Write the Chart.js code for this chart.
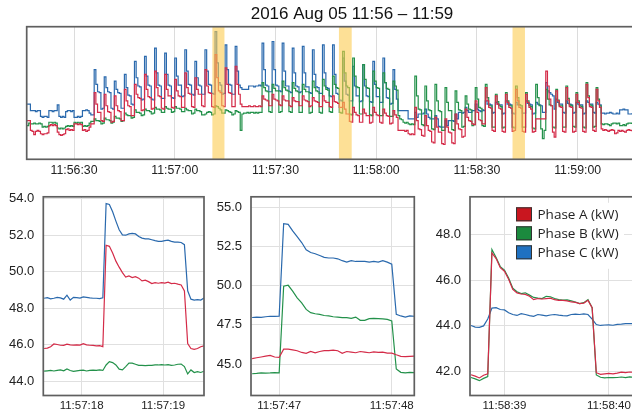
<!DOCTYPE html>
<html>
<head>
<meta charset="utf-8">
<script src="https://cdn.jsdelivr.net/npm/chart.js@4.4.1/dist/chart.umd.min.js"></script>
<style>
  html, body { margin: 0; padding: 0; background: #fff; overflow: hidden; }
  body { width: 632px; height: 417px; position: relative; }
  .box { position: absolute; }
</style>
</head>
<body>
<div class="box" style="left:0;top:0;width:680px;height:182px"><canvas id="overview"></canvas></div>
<div class="box" style="left:0;top:180px;width:215px;height:237px"><canvas id="zoom1"></canvas></div>
<div class="box" style="left:210px;top:180px;width:215px;height:237px"><canvas id="zoom2"></canvas></div>
<div class="box" style="left:420px;top:180px;width:250px;height:237px"><canvas id="zoom3"></canvas></div>
<script>
// time values are seconds after 11:56:00
const title = "2016 Aug 05 11:56 \u2013 11:59";
const seriesNames = ["Phase A (kW)", "Phase B (kW)", "Phase C (kW)"];
const lineColors = ["#d42b48", "#23914a", "#2a69ad"];
const keyColors = ["#c9161f", "#1b8a3e", "#1f71c1"];

// overview: one sample every 0.5 s from 16.0 s
const overviewStart = 16;
const overviewStep = 0.5;
const overviewTicks = [30, 60, 90, 120, 150, 180];
const overviewTickLabels = ["11:56:30", "11:57:00", "11:57:30", "11:58:00", "11:58:30", "11:59:00"];
const bandStarts = [71.2, 108.9, 160.6];
const bandEnds = [74.8, 112.7, 164.3];

const overviewA = [
  44.6, 44.6, 43.4, 43.3, 42.9, 43.3, 43.4, 43.3, 43.0, 42.9,
  43.0, 43.0, 43.1, 44.0, 44.1, 44.0, 44.1, 44.0, 43.2, 42.9,
  42.8, 42.9, 43.0, 43.5, 43.6, 43.4, 43.5, 43.4, 44.2, 44.2,
  44.1, 44.2, 44.1, 43.4, 43.5, 43.3, 43.4, 43.8, 44.2, 44.2,
  48.0, 46.6, 45.6, 45.6, 44.6, 44.5,
  47.8, 46.4, 45.7, 45.6, 44.4, 44.5,
  47.6, 46.4, 45.8, 45.7, 44.6, 44.6,
  48.4, 47.0, 46.4, 46.3, 45.2, 45.2,
  49.0, 47.8, 47.4, 47.3, 45.8, 45.9,
  50.2, 48.4, 47.5, 47.4, 46.0, 46.1,
  50.6, 48.6, 47.6, 47.5, 46.1, 46.0,
  50.2, 48.4, 47.6, 47.6, 46.2, 46.1,
  49.6, 48.2, 47.6, 47.5, 46.2, 46.2,
  50.4, 48.6, 47.9, 47.8, 46.3, 46.2,
  49.8, 48.4, 47.8, 47.8, 46.4, 46.3,
  50.8, 48.8, 48.0, 47.9, 46.3, 46.2,
  52.6, 49.8, 48.2, 48.0, 46.4, 46.3,
  51.0, 49.0, 48.0, 47.9, 46.3, 46.3,
  51.2, 49.0, 47.8, 46.6, 46.3, 46.3,
  46.3, 46.3, 46.4, 46.3, 46.3, 46.4, 46.3, 46.3, 46.4, 46.3,
  47.6, 47.2, 47.1, 47.0, 46.4, 46.4,
  47.8, 47.2, 47.1, 47.0, 46.5, 46.4,
  47.6, 47.1, 47.0, 47.0, 46.4, 46.3,
  47.4, 47.0, 46.9, 46.9, 46.4, 46.4,
  47.6, 47.1, 47.0, 46.9, 46.3, 46.4,
  47.4, 47.0, 46.9, 46.8, 46.3, 46.3,
  47.6, 47.0, 46.8, 46.8, 46.3, 46.2,
  47.6, 46.9, 46.8, 46.7, 46.2, 46.2,
  46.8, 46.0, 45.4, 45.4, 44.5, 44.4,
  46.2, 45.6, 45.3, 45.2, 44.4, 44.4,
  46.0, 45.5, 45.2, 45.2, 44.3, 44.4,
  46.2, 45.6, 45.3, 45.2, 44.4, 44.3,
  46.0, 45.5, 45.2, 45.1, 44.2, 44.3,
  45.8, 45.3, 45.0, 43.4, 43.4, 43.4,
  43.4, 43.3, 43.4, 43.0, 42.9, 43.0, 42.9,
  46.2, 44.6, 43.6, 43.5, 42.8, 42.7,
  45.2, 44.0, 43.4, 43.3, 42.0, 41.9,
  45.0, 43.8, 43.2, 43.2, 41.8, 41.7,
  44.8, 43.8, 43.2, 43.1, 41.9, 41.8,
  45.4, 44.2, 43.6, 43.5, 42.6, 42.7,
  46.0, 45.0, 44.6, 44.5, 44.2, 44.1,
  47.0, 45.6, 44.7, 44.6, 44.2, 44.2,
  48.6, 47.0, 46.2, 46.1, 43.4, 43.3,
  47.6, 46.6, 46.1, 46.0, 43.3, 43.2,
  47.8, 46.8, 46.2, 46.1, 43.3, 43.4,
  48.4, 47.0, 46.2, 46.1, 43.3, 43.2,
  47.8, 46.8, 46.2, 46.0, 43.2, 43.3,
  44.8, 44.8, 44.8, 44.8, 44.8, 44.8,
  50.6, 48.8, 47.2, 46.4, 43.2, 42.6,
  48.2, 47.0, 46.3, 46.2, 43.3, 43.2,
  48.6, 47.1, 46.3, 46.2, 43.2, 43.3,
  47.8, 46.8, 46.2, 46.1, 43.3, 43.2,
  49.0, 47.4, 46.3, 46.2, 43.4, 43.3,
  48.4, 47.0, 46.2, 43.6, 43.4, 43.5,
  43.4, 43.3, 43.4, 43.5, 43.4, 43.0, 43.1, 43.4,
  43.3, 43.4, 43.3, 43.2, 43.4, 43.5, 43.4, 43.3
];

const overviewB = [
  44.0, 44.3, 44.2, 44.2, 44.3, 44.2, 44.2, 44.3, 44.2, 43.8,
  43.9, 43.8, 43.9, 44.4, 44.4, 44.3, 44.4, 44.3, 43.7, 43.6,
  43.7, 43.6, 43.7, 43.9, 44.0, 43.9, 44.0, 43.9, 44.4, 44.3,
  44.4, 44.3, 44.4, 43.9, 44.0, 43.9, 44.0, 44.3, 44.5, 44.5,
  44.8, 44.6, 44.6, 44.5, 44.2, 44.3,
  44.9, 44.7, 44.7, 44.6, 44.3, 44.4,
  45.1, 44.9, 44.9, 44.8, 44.5, 44.6,
  45.5, 45.3, 45.2, 45.2, 44.9, 45.0,
  45.9, 45.6, 45.6, 45.5, 45.2, 45.3,
  46.0, 45.8, 45.8, 45.7, 45.4, 45.5,
  46.2, 46.0, 46.0, 45.9, 45.6, 45.6,
  46.3, 46.1, 46.0, 46.0, 45.6, 45.7,
  46.3, 46.1, 46.1, 46.0, 45.7, 45.7,
  46.1, 45.9, 45.8, 45.8, 45.4, 45.5,
  46.0, 45.8, 45.8, 45.7, 45.3, 45.3,
  45.4, 45.6, 45.7, 45.6, 45.3, 45.4,
  46.4, 46.3, 46.1, 45.9, 45.5, 45.5,
  45.9, 45.8, 45.7, 45.6, 45.3, 45.4,
  45.8, 45.7, 45.6, 43.4, 45.4, 45.5,
  45.5, 45.6, 45.5, 45.6, 45.6, 45.5, 45.6, 45.5, 45.6, 45.6,
  49.2, 48.6, 48.2, 48.1, 45.7, 45.6,
  49.0, 48.5, 48.2, 48.2, 45.6, 45.7,
  49.4, 48.6, 48.3, 48.2, 45.7, 45.6,
  49.2, 48.5, 48.2, 48.1, 45.6, 45.6,
  49.0, 48.4, 48.1, 48.1, 45.5, 45.6,
  49.4, 48.6, 48.2, 48.1, 45.6, 45.5,
  49.6, 48.8, 48.4, 48.3, 45.7, 45.6,
  50.0, 49.0, 48.6, 48.5, 45.6, 45.5,
  53.0, 50.4, 48.8, 48.6, 45.4, 45.3,
  52.2, 50.0, 48.7, 48.6, 45.4, 45.4,
  51.4, 49.6, 48.6, 48.5, 45.3, 45.2,
  50.6, 49.4, 48.6, 48.5, 45.2, 45.2,
  50.4, 49.2, 48.5, 48.4, 45.1, 45.1,
  49.4, 48.8, 48.3, 45.2, 44.8, 44.7,
  44.4, 44.3, 44.4, 44.2, 44.1, 44.2, 44.1,
  50.0, 47.6, 46.0, 45.9, 44.1, 44.0,
  48.8, 47.0, 45.9, 45.8, 43.6, 43.5,
  49.0, 47.0, 45.8, 45.7, 43.4, 43.4,
  48.6, 46.8, 45.8, 45.8, 43.5, 43.4,
  48.2, 46.8, 45.9, 45.8, 43.8, 43.9,
  47.6, 46.6, 46.0, 45.9, 44.0, 44.1,
  48.6, 47.2, 46.2, 46.1, 44.0, 43.9,
  49.0, 47.4, 46.4, 46.4, 43.8, 43.8,
  47.8, 46.9, 46.4, 46.3, 43.7, 43.8,
  48.0, 47.0, 46.4, 46.4, 43.8, 43.7,
  48.8, 47.4, 46.5, 46.4, 43.8, 43.8,
  48.0, 47.0, 46.4, 46.3, 43.7, 43.6,
  49.0, 47.4, 46.4, 43.6, 42.4, 43.4,
  48.4, 47.2, 46.5, 46.4, 43.8, 43.7,
  48.4, 47.1, 46.4, 46.4, 43.8, 43.8,
  48.8, 47.3, 46.5, 46.4, 43.9, 43.8,
  48.0, 47.0, 46.4, 46.3, 43.8, 43.7,
  49.2, 47.6, 46.5, 46.4, 43.8, 43.9,
  48.6, 47.2, 46.4, 44.2, 44.1, 44.2,
  44.2, 44.1, 44.0, 44.2, 44.3, 44.3, 44.2, 44.3,
  44.0, 44.0, 44.1, 44.0, 44.2, 44.3, 44.3, 44.2
];

const overviewC = [
  46.6, 46.6, 45.8, 45.8, 45.8, 45.7, 45.8, 45.8, 45.1, 45.0,
  45.1, 45.1, 45.0, 45.8, 45.8, 45.7, 45.8, 45.8, 46.5, 45.1,
  45.0, 45.1, 45.0, 45.7, 45.8, 45.8, 45.7, 45.8, 45.0, 45.0,
  45.1, 45.0, 45.1, 45.8, 45.8, 45.9, 45.8, 45.5, 45.3, 45.3,
  50.8, 49.0, 48.1, 48.0, 46.0, 46.1,
  49.9, 48.6, 48.1, 48.0, 46.1, 46.0,
  49.4, 48.4, 48.0, 47.9, 46.1, 46.1,
  50.2, 48.6, 47.7, 47.6, 46.6, 46.5,
  51.8, 49.8, 48.8, 48.7, 47.1, 47.2,
  52.4, 50.0, 48.9, 48.8, 47.2, 47.1,
  53.4, 50.4, 48.9, 48.8, 47.3, 47.3,
  52.8, 50.2, 48.9, 48.8, 47.4, 47.3,
  52.2, 50.0, 48.9, 48.9, 47.5, 47.6,
  53.2, 50.6, 49.0, 48.9, 47.8, 47.7,
  51.8, 49.8, 48.9, 48.8, 47.8, 47.8,
  53.2, 50.6, 49.0, 48.9, 47.9, 47.8,
  55.4, 51.6, 49.2, 48.9, 47.8, 47.9,
  53.8, 50.8, 49.0, 48.9, 47.8, 47.8,
  53.6, 50.6, 48.9, 48.6, 48.4, 48.4,
  48.4, 48.4, 48.8, 48.8, 48.8, 48.7, 48.8, 48.8, 48.9, 48.8,
  54.0, 50.8, 48.9, 48.8, 48.1, 48.1,
  54.2, 50.8, 48.9, 48.8, 48.2, 48.1,
  54.0, 50.6, 48.8, 48.8, 48.1, 48.0,
  53.4, 50.4, 48.8, 48.7, 48.0, 48.1,
  53.6, 50.4, 48.7, 48.7, 48.0, 47.9,
  53.2, 50.2, 48.7, 48.6, 47.9, 47.9,
  53.8, 50.4, 48.6, 48.5, 47.6, 47.5,
  53.8, 50.2, 47.9, 47.8, 47.1, 47.0,
  52.2, 49.4, 47.8, 47.7, 47.0, 47.0,
  51.2, 48.8, 47.6, 47.6, 46.9, 47.0,
  51.4, 48.8, 47.6, 47.5, 46.9, 46.8,
  51.8, 49.0, 47.5, 47.5, 46.8, 46.8,
  52.2, 49.2, 47.4, 47.3, 46.6, 46.7,
  50.8, 48.4, 47.2, 45.8, 45.8, 45.8,
  45.8, 45.8, 45.8, 44.8, 44.8, 44.8, 44.8,
  45.6, 45.0, 45.4, 45.4, 45.4, 45.5,
  46.0, 45.4, 45.0, 44.8, 44.8, 44.8,
  45.2, 44.8, 43.9, 43.8, 43.8, 43.8,
  44.6, 44.0, 44.6, 44.6, 44.6, 44.5,
  45.4, 44.8, 45.6, 45.6, 45.5, 45.6,
  46.2, 45.8, 45.6, 45.6, 45.8, 45.8,
  46.6, 46.0, 45.8, 45.7, 45.9, 45.8,
  47.0, 46.6, 46.6, 46.5, 45.5, 45.6,
  46.8, 46.6, 46.5, 46.5, 45.4, 45.5,
  47.0, 46.6, 46.6, 46.5, 45.5, 45.4,
  46.8, 46.5, 46.5, 46.4, 45.5, 45.5,
  47.0, 46.7, 46.6, 46.5, 45.4, 45.5,
  46.8, 46.6, 46.5, 46.4, 45.6, 45.6,
  49.2, 48.2, 48.0, 47.8, 47.6, 46.0,
  47.2, 46.8, 46.6, 46.6, 45.6, 45.5,
  47.0, 46.7, 46.6, 46.5, 45.5, 45.6,
  46.8, 46.6, 46.5, 46.5, 45.4, 45.5,
  47.0, 46.8, 46.6, 46.6, 45.6, 45.5,
  46.8, 46.6, 46.5, 45.5, 45.5, 45.4,
  45.5, 45.5, 45.6, 45.5, 45.4, 45.4, 45.5, 45.4,
  45.9, 45.9, 46.0, 45.9, 45.9, 45.4, 45.4, 45.5
];

// detail panels: one sample every 0.04 s
const zoomStep = 0.04;

const zoom1Start = 77.54;
const zoom1Ticks = [78, 79];
const zoom1TickLabels = ["11:57:18", "11:57:19"];
const zoom1YTicks = [44, 46, 48, 50, 52, 54];
const zoom1A = [
  45.8, 45.82, 45.9, 46.05, 46.02, 45.98, 45.97, 46.04, 46.0, 45.99,
  46.0, 45.99, 46.07, 46.0, 45.98, 45.97, 45.95, 45.96, 45.9,
  51.45, 51.39, 51.03, 50.58, 50.25, 49.95, 49.71, 49.77, 49.68, 49.73,
  49.65, 49.5, 49.54, 49.46, 49.35, 49.4, 49.37, 49.4, 49.38, 49.43,
  49.35, 49.37, 49.32, 49.28, 48.95, 46.07, 45.8, 45.75, 45.8, 45.9, 45.95
];
const zoom1B = [
  44.56, 44.58, 44.6, 44.57, 44.6, 44.63, 44.58, 44.68, 44.6, 44.55,
  44.58, 44.6, 44.62, 44.57, 44.6, 44.62, 44.6, 44.63, 44.6,
  44.9, 45.08, 45.03, 44.9, 44.67, 44.63, 44.81, 45.0, 45.0, 44.94,
  44.88, 44.88, 44.86, 44.88, 44.88, 44.9, 44.9, 44.92, 44.9, 44.92,
  44.88, 44.9, 44.94, 44.95, 44.81, 44.41, 44.63, 44.49, 44.54, 44.49, 44.56
];
const zoom1C = [
  48.55, 48.58, 48.52, 48.55, 48.6, 48.57, 48.5, 48.72, 48.45, 48.6,
  48.58, 48.56, 48.62, 48.6, 48.57, 48.55, 48.55, 48.53, 48.58,
  53.73, 53.68, 53.28, 52.77, 52.3, 52.02, 52.0, 52.07, 52.1, 52.07,
  51.93, 51.84, 51.8, 51.8, 51.75, 51.7, 51.66, 51.66, 51.7, 51.73,
  51.66, 51.62, 51.62, 51.6, 51.48, 48.96, 48.5, 48.45, 48.47, 48.45, 48.56
];

const zoom2Start = 106.76;
const zoom2Ticks = [107, 108];
const zoom2TickLabels = ["11:57:47", "11:57:48"];
const zoom2YTicks = [45, 47.5, 50, 52.5, 55];
const zoom2A = [
  45.35, 45.4, 45.45, 45.5, 45.55, 45.45, 45.42,
  45.95, 45.95, 45.9, 45.85, 45.74, 45.68, 45.8, 45.72, 45.8, 45.85,
  45.85, 45.89, 45.85, 45.68, 45.8, 45.76, 45.72, 45.8, 45.76, 45.72,
  45.78, 45.74, 45.76, 45.7, 45.7, 45.59, 45.49, 45.47, 45.49, 45.51
];
const zoom2B = [
  44.38, 44.4, 44.44, 44.42, 44.43, 44.45, 44.43,
  49.97, 50.03, 49.65, 49.23, 48.91, 48.49, 48.28, 48.21, 48.17, 48.1,
  48.07, 48.02, 48.0, 47.96, 47.96, 47.92, 48.0, 47.79, 47.79, 47.9,
  47.92, 47.9, 47.88, 47.85, 47.75, 44.68, 44.47, 44.43, 44.47, 44.45
];
const zoom2C = [
  47.97, 48.0, 47.98, 48.02, 48.05, 48.04, 48.05,
  53.96, 53.92, 53.5, 53.14, 52.76, 52.29, 52.12, 52.04, 51.93, 51.81,
  51.77, 51.77, 51.72, 51.6, 51.51, 51.6, 51.55, 51.55, 51.55, 51.51,
  51.55, 51.51, 51.6, 51.51, 51.38, 48.17, 48.07, 48.0, 48.07, 48.05
];

const zoom3Start = 158.68;
const zoom3Ticks = [159, 160];
const zoom3TickLabels = ["11:58:39", "11:58:40"];
const zoom3YTicks = [42, 44, 46, 48];
const zoom3A = [
  41.86, 41.8, 41.72, 41.84, 41.9, 47.2, 46.95, 46.55, 46.4, 46.05,
  45.6, 45.45, 45.4, 45.38, 45.3, 45.15, 45.2, 45.18, 45.2, 45.22,
  45.15, 45.12, 45.12, 45.1, 45.05, 45.03, 44.98, 45.0, 45.12, 44.8,
  41.95, 41.88, 41.9, 41.92, 41.9, 41.93, 41.97, 41.95, 41.98, 41.96
];
const zoom3B = [
  41.74, 41.68, 41.6, 41.7, 41.78, 47.35, 47.0, 46.6, 46.45, 46.1,
  45.65, 45.5, 45.42, 45.45, 45.35, 45.25, 45.22, 45.2, 45.3, 45.28,
  45.2, 45.15, 45.13, 45.14, 45.1, 45.05, 44.98, 45.02, 45.15, 44.8,
  41.85, 41.75, 41.72, 41.74, 41.73, 41.74, 41.76, 41.73, 41.77, 41.75
];
const zoom3C = [
  44.02, 43.95, 43.94, 44.0, 44.3, 44.78, 44.8, 44.72, 44.7, 44.58,
  44.5, 44.46, 44.54, 44.5, 44.45, 44.42, 44.5, 44.47, 44.44, 44.48,
  44.5, 44.47, 44.45, 44.44, 44.5, 44.52, 44.5, 44.53, 44.5, 44.3,
  44.06, 44.02, 44.04, 44.05, 44.03, 44.07, 44.08, 44.1, 44.1, 44.1
];

Chart.defaults.font.family = '"Liberation Sans", Arial, sans-serif';
Chart.defaults.color = "#222";

function points(start, step, values) {
  return values.map((v, i) => ({ x: start + i * step, y: v }));
}

function lines(start, step, lists, width, stepped) {
  return lists.map((vals, i) => ({
    label: seriesNames[i],
    data: points(start, step, vals),
    borderColor: lineColors[i],
    borderWidth: width,
    pointRadius: 0,
    fill: false,
    tension: 0,
    stepped: stepped
  }));
}

// frame round the plot, optional highlight bands
const framePlugin = {
  id: "frame",
  afterDatasetsDraw(chart, args, opts) {
    const { ctx, chartArea: a, scales } = chart;
    ctx.save();
    if (opts.bands) {
      ctx.fillStyle = "rgba(252, 204, 80, 0.6)";
      opts.bands[0].forEach((s, i) => {
        const x1 = scales.x.getPixelForValue(s);
        const x2 = scales.x.getPixelForValue(opts.bands[1][i]);
        ctx.fillRect(x1, a.top, x2 - x1, a.bottom - a.top);
      });
    }
    ctx.strokeStyle = "#5f5f5f";
    ctx.lineWidth = 1.7;
    ctx.strokeRect(a.left, a.top, a.right - a.left, a.bottom - a.top);
    ctx.restore();
  }
};

const titlePlugin = {
  id: "bigTitle",
  afterDraw(chart) {
    const ctx = chart.ctx;
    ctx.save();
    ctx.font = '17px "Liberation Sans", Arial, sans-serif';
    ctx.fillStyle = "#111";
    ctx.textAlign = "center";
    ctx.textBaseline = "middle";
    ctx.fillText(title, 352, 14);
    ctx.restore();
  }
};

const keyPlugin = {
  id: "key",
  afterDraw(chart) {
    const { ctx, chartArea: a } = chart;
    ctx.save();
    ctx.font = '13.5px "Open Sans", sans-serif';
    ctx.textBaseline = "middle";
    ctx.textAlign = "left";
    const x = a.left + 46;
    ctx.fillStyle = "#fff";
    ctx.fillRect(x - 4, a.top + 6, 112, 66);
    chart.data.datasets.forEach((ds, i) => {
      const y = a.top + 10.5 + i * 19;
      ctx.fillStyle = keyColors[i];
      ctx.fillRect(x, y, 16, 14);
      ctx.strokeStyle = "#333";
      ctx.lineWidth = 1;
      ctx.strokeRect(x + 0.5, y + 0.5, 15, 13);
      ctx.fillStyle = "#222";
      ctx.fillText(ds.label, x + 21.5, y + 7.5);
    });
    ctx.restore();
  }
};

new Chart(document.getElementById("overview"), {
  type: "line",
  data: { datasets: lines(overviewStart, overviewStep, [overviewA, overviewB, overviewC], 1.2, true) },
  options: {
    responsive: true,
    maintainAspectRatio: false,
    animation: false,
    layout: { padding: { left: 26.7, top: 26.7, right: 10, bottom: 0 } },
    plugins: {
      legend: { display: false },
      tooltip: { enabled: false },
      frame: { bands: [bandStarts, bandEnds] }
    },
    scales: {
      x: {
        type: "linear",
        min: 15.9,
        max: 207.5,
        afterBuildTicks: s => { s.ticks = overviewTicks.map(v => ({ value: v })); },
        afterFit: s => { s.height = 22.7; },
        grid: { color: "#dcdcdc", drawTicks: false },
        border: { display: false },
        ticks: {
          font: { size: 12.3 },
          padding: 4,
          maxRotation: 0,
          autoSkip: false,
          callback: (v, i) => overviewTickLabels[i]
        }
      },
      y: { display: false, min: 39.9, max: 56.0 }
    }
  },
  plugins: [framePlugin, titlePlugin]
});

function detail(id, start, lists, xr, yr, xTicks, xLabels, yTicks, yWidth, pad, extra) {
  return new Chart(document.getElementById(id), {
    type: "line",
    data: { datasets: lines(start, zoomStep, lists, 1.2, false) },
    options: {
      responsive: true,
      maintainAspectRatio: false,
      animation: false,
      layout: { padding: pad },
      plugins: { legend: { display: false }, tooltip: { enabled: false }, frame: {} },
      scales: {
        x: {
          type: "linear",
          min: xr[0],
          max: xr[1],
          afterBuildTicks: s => { s.ticks = xTicks.map(v => ({ value: v })); },
          afterFit: s => { s.height = 21.5; },
          grid: { color: "#e0e0e0", drawTicks: false },
          border: { display: false },
          ticks: {
            font: { size: 11.5 },
            padding: 3,
            maxRotation: 0,
            autoSkip: false,
            callback: (v, i) => xLabels[i]
          }
        },
        y: {
          min: yr[0],
          max: yr[1],
          afterBuildTicks: s => { s.ticks = yTicks.map(v => ({ value: v })); },
          afterFit: s => { s.width = yWidth; },
          grid: { color: "#e0e0e0", drawTicks: false },
          border: { display: false },
          ticks: {
            font: { size: 13 },
            padding: 9,
            callback: v => v.toFixed(1)
          }
        }
      }
    },
    plugins: extra ? [framePlugin, extra] : [framePlugin]
  });
}

detail("zoom1", zoom1Start, [zoom1A, zoom1B, zoom1C], [77.53, 79.5], [43.23, 54.1],
  zoom1Ticks, zoom1TickLabels, zoom1YTicks, 43.3, { left: 0, top: 15, right: 11, bottom: 0 });
detail("zoom2", zoom2Start, [zoom2A, zoom2B, zoom2C], [106.75, 108.2], [42.99, 55.68],
  zoom2Ticks, zoom2TickLabels, zoom2YTicks, 41, { left: 0, top: 15, right: 10.7, bottom: 0 });
detail("zoom3", zoom3Start, [zoom3A, zoom3B, zoom3C], [158.67, 160.49], [40.95, 49.66],
  zoom3Ticks, zoom3TickLabels, zoom3YTicks, 50, { left: 0, top: 14, right: 10, bottom: 0 }, keyPlugin);
</script>
</body>
</html>
